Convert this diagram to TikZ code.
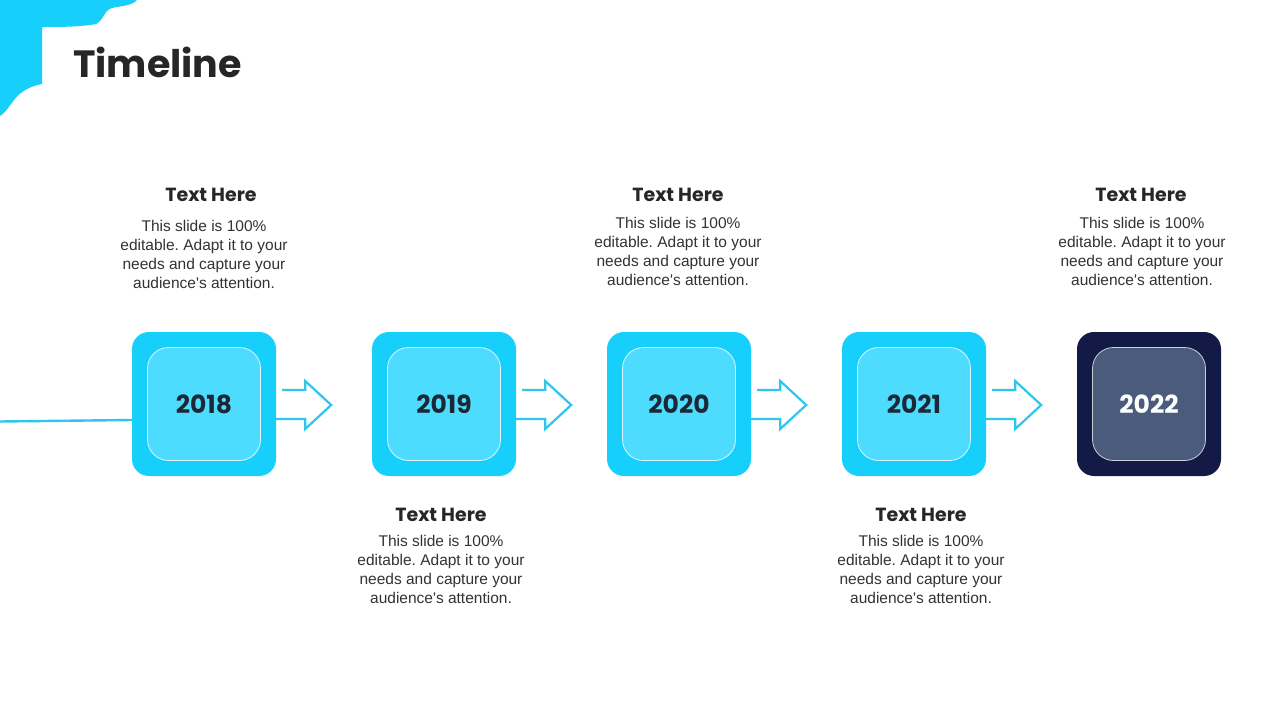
\documentclass[tikz,border=0pt]{standalone}
\usepackage{fontspec}
\setmainfont{Liberation Sans}
\newfontfamily\popfont{Poppins}
\usetikzlibrary{calc}
\frenchspacing
\definecolor{cyanout}{HTML}{17CFFB}
\definecolor{cyanin}{HTML}{4DDCFD}
\definecolor{navyout}{HTML}{121A45}
\definecolor{navyin}{HTML}{4A5B7C}
\definecolor{linecyan}{HTML}{2EC6EF}
\definecolor{headcol}{HTML}{262626}
\definecolor{bodycol}{HTML}{333333}
\definecolor{yearcol}{HTML}{1C2836}
\newcommand{\bodyblurb}{This slide is 100\%\\editable. Adapt it to your\\needs and capture your\\audience\textquotesingle s attention.}
\tikzset{
  outerbox/.style={rounded corners=17pt, minimum width=144pt, minimum height=144pt, inner sep=0pt},
  innerbox/.style={rounded corners=21pt, minimum width=113pt, minimum height=113pt, inner sep=0pt, draw=white!80!cyanin, line width=0.8pt},
  yeartext/.style={font=\popfont\bfseries\fontsize{25}{30}\selectfont},
  headtext/.style={font=\popfont\bfseries\fontsize{19}{22}\selectfont, text=headcol},
  bodytext/.style={font=\frenchspacing\fontsize{15.5}{19}\selectfont, text=bodycol, align=center, inner sep=0pt},
  arrowline/.style={draw=linecyan, line width=2.2pt, line join=miter}
}
\begin{document}
\begin{tikzpicture}[x=1pt,y=-1pt]
\useasboundingbox (0,0) rectangle (1280,720);
\fill[white] (0,0) rectangle (1280,720);
% corner blob
\fill[cyanout] (0,0) -- (137,0) .. controls (132,6) and (120,6) .. (112,8)
  .. controls (104,10) and (104,20) .. (96,24) .. controls (80,27) and (60,27) .. (42,27)
  -- (42,84) .. controls (30,86) and (20,92) .. (14,100) .. controls (8,108) and (4,114) .. (0,116) -- cycle;
\node[anchor=base west, font=\popfont\bfseries\fontsize{38}{44}\selectfont, text=headcol, inner sep=0pt] (title) at (73,77) {Timeline};
% boxes
\foreach \n/\x in {1/204,2/444,3/679,4/914}{
  \node[outerbox, fill=cyanout] (b\n) at (\x,404) {};
}
\node[outerbox, fill=navyout] (b5) at (1149,404) {};
\node[innerbox, fill=cyanin, yeartext, text=yearcol] (i1) at (b1) {2018};
\node[innerbox, fill=cyanin, yeartext, text=yearcol] (i2) at (b2) {2019};
\node[innerbox, fill=cyanin, yeartext, text=yearcol] (i3) at (b3) {2020};
\node[innerbox, fill=cyanin, yeartext, text=yearcol] (i4) at (b4) {2021};
\node[innerbox, fill=navyin, yeartext, text=white, draw=white!70!navyin] (i5) at (b5) {2022};
% left line
\coordinate (start) at (0,421.5);
\draw[draw=linecyan, line width=2.4pt] (start) -- ($(b1.west)+(0,16)$);
% arrows
\foreach \n in {1,2,3,4}{
  \draw[arrowline] ($(b\n.east)+(6,-14)$) -- ($(b\n.east)+(29,-14)$) -- ($(b\n.east)+(29,-23)$)
     -- ($(b\n.east)+(55,1)$) -- ($(b\n.east)+(29,25)$) -- ($(b\n.east)+(29,15)$) -- ($(b\n.east)+(0,15)$);
}
% texts
\node[headtext] (h1) at (211,195) {Text Here};
\node[bodytext, anchor=north] (t1) at (204,220) {\bodyblurb};
\node[headtext] (h2) at (441,515) {Text Here};
\node[bodytext, anchor=north] (t2) at (441,535) {\bodyblurb};
\node[headtext] (h3) at (678,195) {Text Here};
\node[bodytext, anchor=north] (t3) at (678,217) {\bodyblurb};
\node[headtext] (h4) at (921,515) {Text Here};
\node[bodytext, anchor=north] (t4) at (921,535) {\bodyblurb};
\node[headtext] (h5) at (1141,195) {Text Here};
\node[bodytext, anchor=north] (t5) at (1142,217) {\bodyblurb};
\end{tikzpicture}
\end{document}
